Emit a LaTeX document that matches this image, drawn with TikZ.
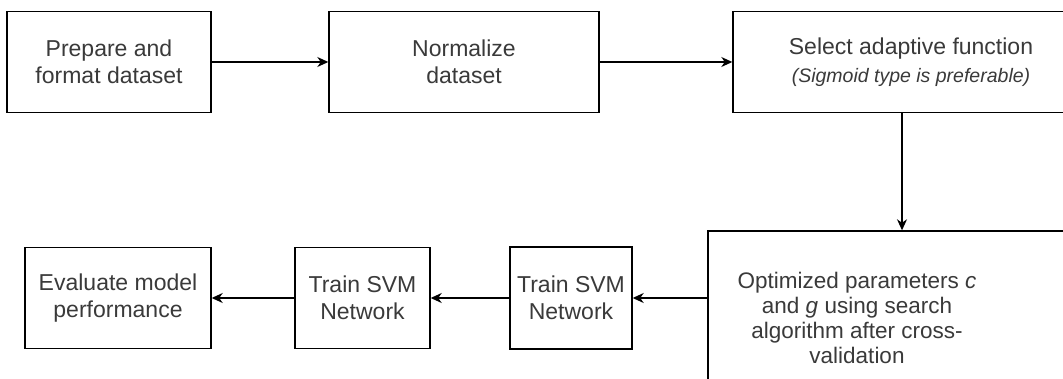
\documentclass[tikz,border=0pt]{standalone}
\usepackage{fontspec}
\setmainfont{Liberation Sans}
\usetikzlibrary{arrows.meta}
\definecolor{txt}{RGB}{58,58,58}
\begin{document}
\begin{tikzpicture}[x=1pt,y=-1pt,
  box/.style={draw=black, line width=1.4pt, fill=white, inner sep=0pt,
    align=center, text=txt, font=\fontsize{23}{26.5}\selectfont},
  plain/.style={inner sep=0pt, align=center, text=txt,
    font=\fontsize{22.5}{25}\selectfont},
  flow/.style={line width=1.4pt,
    -{Stealth[length=11pt,width=10pt,inset=3.5pt]}}]
\useasboundingbox (0,0) rectangle (1063,379);
\clip (0,0) rectangle (1063,379);

% top row
\node[box, minimum width=204pt, minimum height=101pt] (prep) at (109,62)
  {Prepare and\\format dataset};
\node[box, minimum width=270pt, minimum height=101pt] (norm) at (464,62)
  {Normalize\\dataset};
\node[box, minimum width=356pt, minimum height=101pt] (sel) at (911,62)
  {Select adaptive function\\[1pt]{\fontsize{19.5}{22}\selectfont\itshape (Sigmoid type is preferable)}};

% parameter search box and its text
\node[box, minimum width=388pt, minimum height=174pt] (opt) at (902,318) {};
\node[plain] (opttext) at (857,318)
  {Optimized parameters \textit{c}\\and \textit{g} using search\\algorithm after cross-\\validation};

% bottom row
\node[box, minimum width=122pt, minimum height=102pt] (trainA) at (571,298)
  {Train SVM\\Network};
\node[box, minimum width=135pt, minimum height=101pt] (trainB) at (362.5,298)
  {Train SVM\\Network};
\node[box, minimum width=186pt, minimum height=101pt] (eval) at (118,298)
  {Evaluate model\\performance};

% connectors
\draw[flow] (prep.east) -- (norm.west);
\draw[flow] (norm.east) -- (sel.west);
\draw[flow] (opt.north |- sel.south) -- (opt.north);
\draw[flow] (opt.west |- trainA.east) -- (trainA.east);
\draw[flow] (trainA.west) -- (trainA.west -| trainB.east);
\draw[flow] (trainB.west) -- (trainB.west -| eval.east);
\end{tikzpicture}
\end{document}
